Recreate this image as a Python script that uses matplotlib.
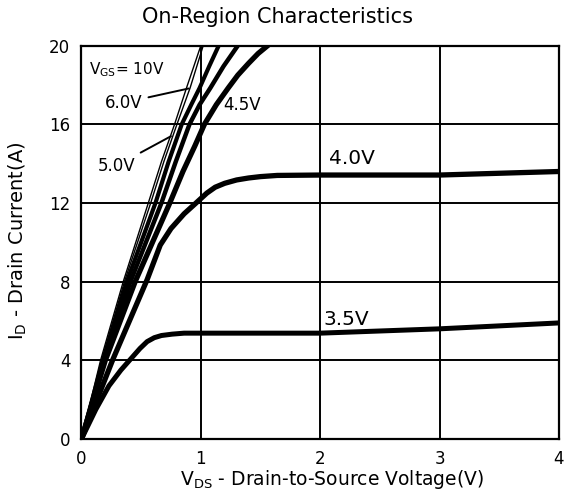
import matplotlib
matplotlib.use("Agg")
import matplotlib.pyplot as plt

plt.rcParams['font.family'] = ['DejaVu Sans']

# values: Vds (V) vs Id (A) for each Vgs
vds_10 = [0, 0.16, 0.35, 0.56, 0.67, 0.78, 0.88, 1.0]
id_10 = [0, 4, 8, 12, 14.1, 16, 17.85, 20]
vds_8 = [0, 0.17, 0.36, 0.58, 0.69, 0.8, 0.91, 1.02]
id_8 = [0, 4, 8, 12, 14.1, 16, 17.85, 20]
vds_6 = [0, 0.18, 0.38, 0.62, 0.73, 0.84, 0.92, 0.99, 1.07, 1.15]
id_6 = [0, 4, 8, 12, 14.1, 16, 17.0, 17.85, 18.95, 20]
vds_5 = [0, 0.19, 0.41, 0.67, 0.79, 0.905, 0.99, 1.08, 1.19, 1.31]
id_5 = [0, 4, 8, 12, 14.1, 16, 17.0, 17.85, 18.95, 20]
vds_45 = [0, 0.2, 0.45, 0.74, 0.85, 0.95, 1.03, 1.13, 1.23, 1.31, 1.4, 1.48, 1.56]
id_45 = [0, 4, 8, 12, 13.6, 14.9, 16, 17.0, 17.85, 18.5, 19.1, 19.6, 20]
vds_4 = [0, 0.26, 0.55, 0.66, 0.75, 0.86, 0.96, 1.05, 1.12, 1.2, 1.3, 1.4,
         1.5, 1.64, 2.0, 3.0, 4.0]
id_4 = [0, 4, 8.1, 9.86, 10.7, 11.45, 12.0, 12.5, 12.8, 13.0, 13.17, 13.27,
        13.34, 13.4, 13.42, 13.42, 13.6]
vds_35 = [0, 0.12, 0.23, 0.33, 0.41, 0.49, 0.55, 0.61, 0.67, 0.76, 0.86, 2.0, 3.0, 4.0]
id_35 = [0, 1.5, 2.7, 3.5, 4.05, 4.6, 4.95, 5.15, 5.26, 5.33, 5.38, 5.38, 5.6, 5.9]

x_ticks = [0, 1, 2, 3, 4]
y_ticks = [0, 4, 8, 12, 16, 20]

fig = plt.figure(figsize=(5.67, 4.96), dpi=100)
ax = fig.add_axes([0.1437, 0.115, 0.842, 0.793])

kw = dict(color='black', solid_joinstyle='round')
ax.plot(vds_10, id_10, lw=1.0, **kw)
ax.plot(vds_8, id_8, lw=1.0, **kw)
ax.plot(vds_6, id_6, lw=3.0, **kw)
ax.plot(vds_5, id_5, lw=3.2, **kw)
ax.plot(vds_45, id_45, lw=3.8, **kw)
ax.plot(vds_4, id_4, lw=3.8, **kw)
ax.plot(vds_35, id_35, lw=3.6, **kw)

ax.set_xlim(0, 4)
ax.set_ylim(0, 20)
ax.set_xticks(x_ticks)
ax.set_yticks(y_ticks)
ax.tick_params(length=0, labelsize=12, pad=8)
ax.grid(True, color='black', lw=1.4)
for s in ax.spines.values():
    s.set_linewidth(1.6)

ax.text(0.066, 18.8, r'V$_{\mathregular{GS}}$= 10V', fontsize=11, va='center')
ax.annotate('6.0V', xy=(0.92, 17.85), xytext=(0.2, 17.1), fontsize=12,
            va='center', arrowprops=dict(arrowstyle='-', lw=1.4, color='black'))
ax.annotate('5.0V', xy=(0.77, 15.46), xytext=(0.137, 13.9), fontsize=12,
            va='center', arrowprops=dict(arrowstyle='-', lw=1.4, color='black'))
ax.text(1.19, 17.0, '4.5V', fontsize=12, va='center')
ax.text(2.07, 14.27, '4.0V', fontsize=14.5, va='center')
ax.text(2.03, 6.05, '3.5V', fontsize=14.5, va='center')

fig.text(0.489, 0.966, 'On-Region Characteristics', fontsize=15,
         ha='center', va='center')
fig.text(0.586, 0.034, r'V$_{\mathregular{DS}}$ - Drain-to-Source Voltage(V)',
         fontsize=13.5, ha='center', va='center')
fig.text(0.032, 0.514, r'I$_{\mathregular{D}}$ - Drain Current(A)', fontsize=14,
         ha='center', va='center', rotation=90)

fig.savefig('out.png', dpi=100)
